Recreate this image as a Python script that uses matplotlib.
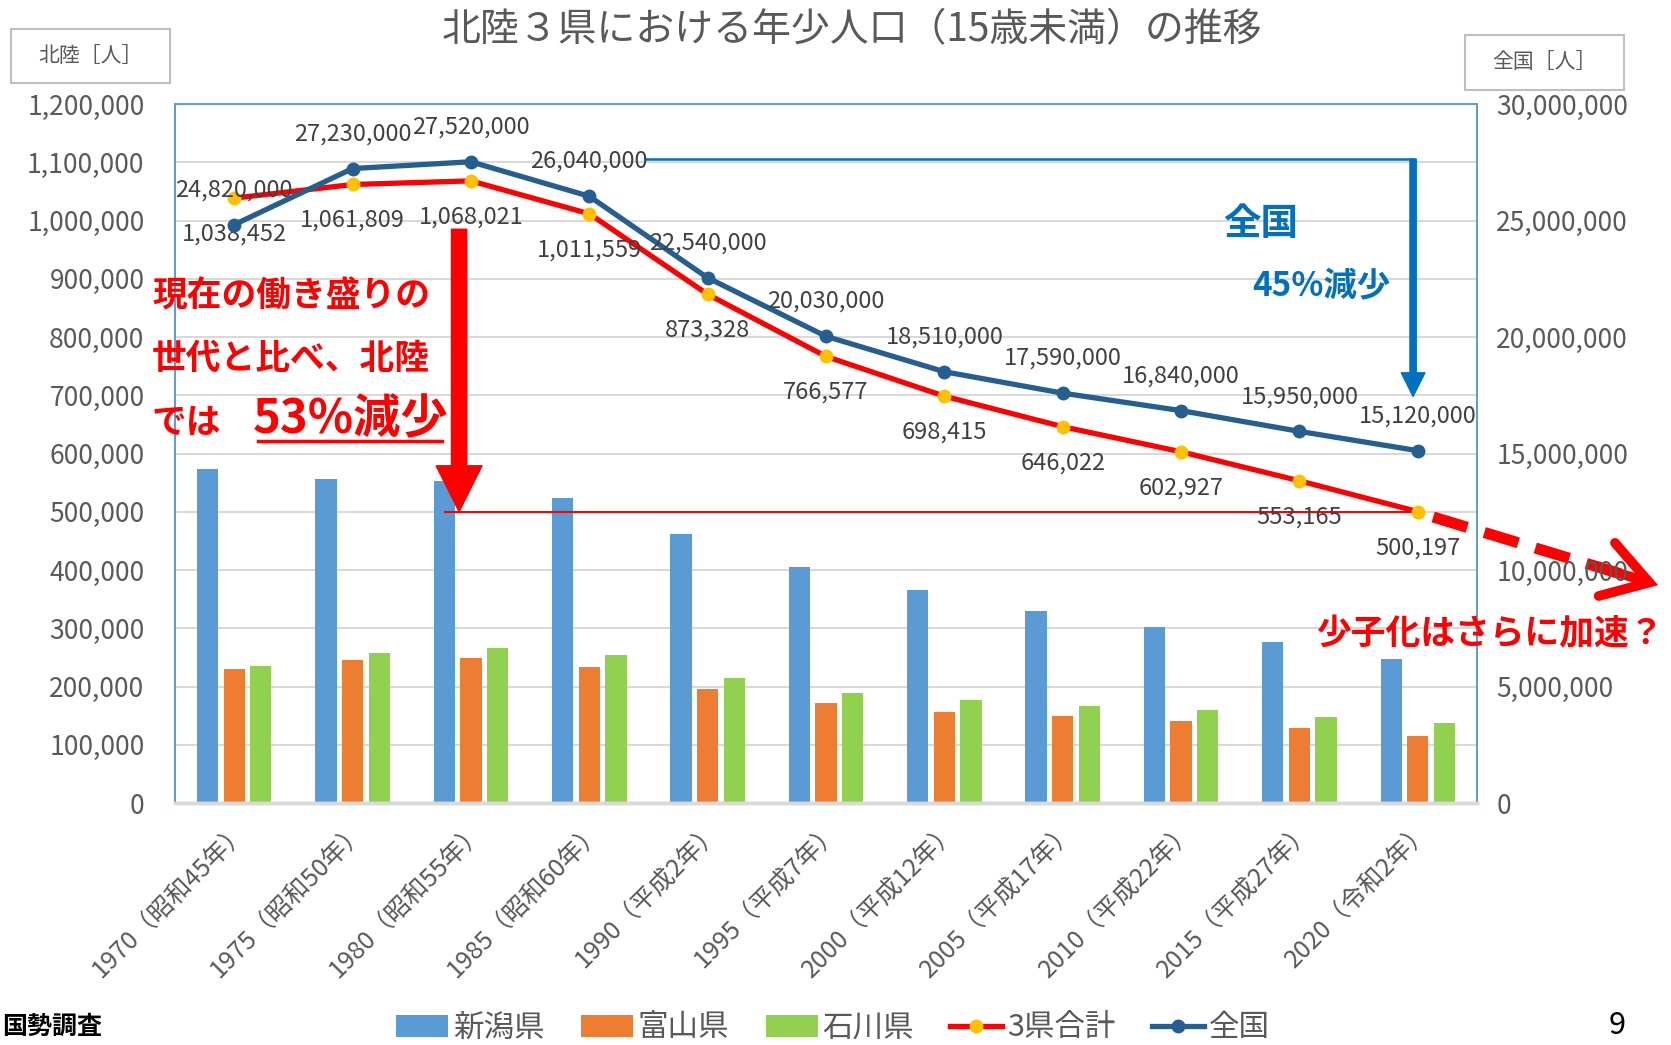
import numpy as np
import matplotlib
matplotlib.use('Agg')
import matplotlib.pyplot as plt
from matplotlib.patches import Rectangle
from matplotlib.ticker import FuncFormatter, MultipleLocator

plt.rcParams['font.family'] = ['Noto Sans CJK JP', 'DejaVu Sans']

years = ['1970（昭和45年）', '1975（昭和50年）', '1980（昭和55年）', '1985（昭和60年）',
         '1990（平成2年）', '1995（平成7年）', '2000（平成12年）', '2005（平成17年）',
         '2010（平成22年）', '2015（平成27年）', '2020（令和2年）']
niigata = [574000, 557000, 553000, 524000, 462000, 406000, 365000, 330000, 302000, 276000, 248000]
toyama = [230000, 246000, 249000, 234000, 196000, 171000, 157000, 149000, 141000, 129000, 115000]
ishikawa = [235000, 258000, 266000, 254000, 215000, 189000, 176000, 166000, 159000, 148000, 137000]
hokuriku = [1038452, 1061809, 1068021, 1011559, 873328, 766577, 698415, 646022, 602927, 553165, 500197]
zenkoku = [24820000, 27230000, 27520000, 26040000, 22540000, 20030000, 18510000, 17590000,
           16840000, 15950000, 15120000]

W, H = 1671, 1045
fig = plt.figure(figsize=(W / 100, H / 100), dpi=100)
ax = fig.add_axes([175 / W, 1 - 803 / H, (1477 - 175) / W, (803 - 104) / H])
ax2 = ax.twinx()

gray = '#595959'
x = np.arange(len(years))
bw = 0.18
off = 0.225

b1 = ax.bar(x - off, niigata, bw, color='#5B9BD5', label='新潟県', zorder=2)
b2 = ax.bar(x, toyama, bw, color='#ED7D31', label='富山県', zorder=2)
b3 = ax.bar(x + off, ishikawa, bw, color='#92D050', label='石川県', zorder=2)
l1, = ax.plot(x, hokuriku, color='#FF0000', lw=3.8, marker='o', ms=9,
              mfc='#FFC000', mec='#FFC000', label='3県合計', zorder=4)
l2, = ax2.plot(x, zenkoku, color='#255E91', lw=3.8, marker='o', ms=9,
               mfc='#255E91', mec='#255E91', label='全国', zorder=4)

ax.set_xlim(-0.5, 10.5)
ax.set_ylim(0, 1200000)
ax2.set_ylim(0, 30000000)
ax.yaxis.set_major_locator(MultipleLocator(100000))
ax2.yaxis.set_major_locator(MultipleLocator(5000000))
fmt = FuncFormatter(lambda v, p: f'{int(v):,}')
ax.yaxis.set_major_formatter(fmt)
ax2.yaxis.set_major_formatter(fmt)
ax.grid(axis='y', color='#D9D9D9', lw=1.5, zorder=0)
ax.set_axisbelow(True)

ax.tick_params(axis='y', length=0, pad=22, labelsize=19, labelcolor=gray)
ax2.tick_params(axis='y', length=0, pad=14, labelsize=19, labelcolor=gray)

ax.set_xticks(x)
ax.set_xticklabels(years, rotation=45, ha='right', va='top', rotation_mode='anchor',
                   fontsize=18, color=gray)
ax.tick_params(axis='x', length=0, pad=10)

for a in (ax, ax2):
    for s in ('left', 'top', 'right'):
        a.spines[s].set_color('#5B9BD5')
        a.spines[s].set_linewidth(1.2)
    a.spines['bottom'].set_color('#D9D9D9')
    a.spines['bottom'].set_linewidth(2.5)

# data labels
for i in range(len(x)):
    ax.annotate(f'{hokuriku[i]:,}', (x[i], hokuriku[i]), xytext=(0, -26),
                textcoords='offset points', ha='center', va='center',
                fontsize=17, color='#404040', zorder=6)
    ax2.annotate(f'{zenkoku[i]:,}', (x[i], zenkoku[i]), xytext=(0, 25),
                 textcoords='offset points', ha='center', va='center',
                 fontsize=17, color='#404040', zorder=6)

# red annotations
ax.plot([1.78, 10.0], [hokuriku[-1], hokuriku[-1]], color='#FF0000', lw=1.5, zorder=3)
ax.annotate('', xy=(1.9, hokuriku[-1]), xytext=(1.9, 985000),
            arrowprops=dict(arrowstyle='simple,head_length=33,head_width=33,tail_width=11',
                            mutation_scale=1, color='#FF0000', shrinkA=0, shrinkB=0), zorder=5)
fig.text(152 / W, 1 - 296 / H, '現在の働き盛りの', fontsize=25, fontweight='bold',
         color='#FF0000', va='center', ha='left')
fig.text(152 / W, 1 - 358 / H, '世代と比べ、北陸', fontsize=25, fontweight='bold',
         color='#FF0000', va='center', ha='left')
fig.text(152 / W, 1 - 422 / H, 'では', fontsize=25, fontweight='bold',
         color='#FF0000', va='center', ha='left')
fig.text(351 / W, 1 - 419 / H, '53%減少', fontsize=34, fontweight='bold',
         color='#FF0000', va='center', ha='center')
fig.add_artist(plt.Line2D([258 / W, 442 / W], [1 - 441 / H, 1 - 441 / H],
                          color='#FF0000', lw=2.5))

# dashed projection arrow
ax.plot([10.13, 11.85], [491000, 385000], color='#FF0000', lw=8, ls=(0, (3.2, 1.6)),
        clip_on=False, zorder=5, solid_capstyle='butt', dash_capstyle='butt')
ax.annotate('', xy=(12.03, 374000), xytext=(11.5, 407000), xycoords='data',
            arrowprops=dict(arrowstyle='->,head_length=3.2,head_width=2.0', lw=7,
                            color='#FF0000', shrinkA=0, shrinkB=0, capstyle='round',
                            joinstyle='miter'), annotation_clip=False, zorder=5)
fig.text(1490 / W, 1 - 634 / H, '少子化はさらに加速？', fontsize=25, fontweight='bold',
         color='#FF0000', va='center', ha='center')

# blue annotations
ax.plot([3.47, 9.96], [1105600, 1105600], color='#0070C0', lw=1.8, zorder=3)
ax.annotate('', xy=(9.96, 698000), xytext=(9.96, 1105600),
            arrowprops=dict(arrowstyle='simple,head_length=17,head_width=17,tail_width=4.5',
                            mutation_scale=1, color='#0070C0', shrinkA=0, shrinkB=0), zorder=5)
fig.text(1261 / W, 1 - 224 / H, '全国', fontsize=27, fontweight='bold',
         color='#0070C0', va='center', ha='center')
fig.text(1321 / W, 1 - 286 / H, '45%減少', fontsize=24, fontweight='bold',
         color='#0070C0', va='center', ha='center')

# title and unit boxes
fig.text(852 / W, 1 - 30 / H, '北陸３県における年少人口（15歳未満）の推移', fontsize=28,
         color=gray, va='center', ha='center')
for (x0, y0, x1, y1, txt) in [(11, 29, 170, 83, '北陸［人］'), (1465, 35, 1624, 90, '全国［人］')]:
    fig.add_artist(Rectangle((x0 / W, 1 - y1 / H), (x1 - x0) / W, (y1 - y0) / H,
                             transform=fig.transFigure, fill=False, ec='#BFBFBF', lw=1.5))
    fig.text((x0 + x1) / 2 / W, 1 - (y0 + y1) / 2 / H, txt, fontsize=15, color=gray,
             va='center', ha='center')

# legend
fig.legend([b1, b2, b3, l1, l2], ['新潟県', '富山県', '石川県', '3県合計', '全国'],
           loc='center', bbox_to_anchor=(833 / W, 1 - 1028 / H), ncol=5, frameon=False,
           fontsize=22, handlelength=1.7, handletextpad=0.15, columnspacing=1.2,
           labelcolor=gray)

fig.text(2 / W, 1 - 1027 / H, '国勢調査', fontsize=18, fontweight='bold', color='black',
         va='center', ha='left')
fig.text(1617 / W, 1 - 1025 / H, '9', fontsize=22, color='black', va='center', ha='center')

fig.savefig('out.png', dpi=100)
